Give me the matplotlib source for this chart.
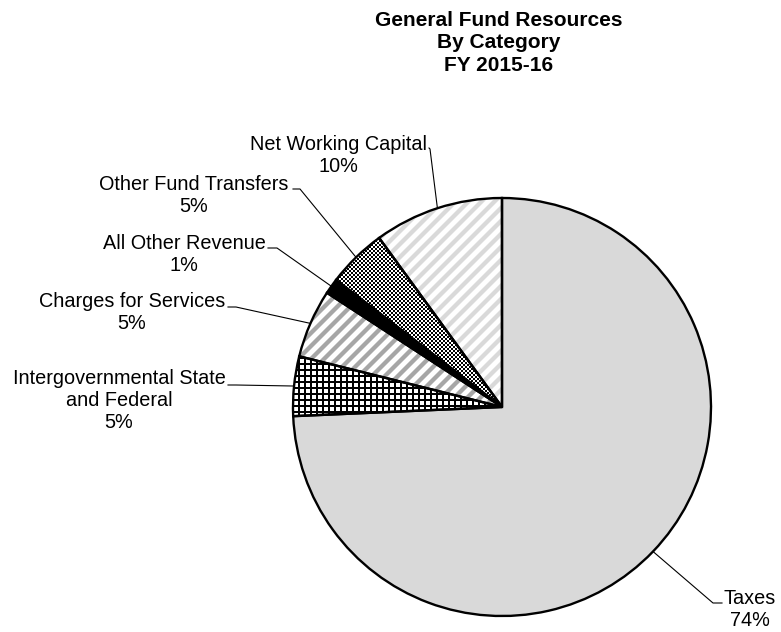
import numpy as np
import matplotlib.pyplot as plt
from matplotlib.patches import Wedge
from matplotlib.collections import LineCollection

plt.rcParams['font.family'] = ['Liberation Sans', 'DejaVu Sans']

# General fund resources, FY 2015-16 (percent of total)
categories = ['Taxes', 'Intergovernmental State\nand Federal', 'Charges for Services',
              'All Other Revenue', 'Other Fund Transfers', 'Net Working Capital']
shares = [74.3, 4.6, 5.3, 1.2, 4.6, 10.0]

W, H = 781, 632
fig = plt.figure(figsize=(W / 100, H / 100), dpi=100)
ax = fig.add_axes([0, 0, 1, 1])

cx, cy, r = 502, H - 407, 209
fills = ['#d9d9d9', 'white', 'white', 'black', 'white', 'white']
wedges, _ = ax.pie(shares, startangle=90, counterclock=False, center=(cx, cy),
                   radius=r, colors=fills, wedgeprops=dict(linewidth=0))


def stripes(w, color, period=13, lw=3.1):
    x0, x1 = cx - r - 5, cx + r + 5
    cs = np.arange(-(x1 - cy) - 2 * r, (cy - x0) + 2 * r, period)
    segs = [[(x0, x0 + c), (x1, x1 + c)] for c in cs]
    lc = LineCollection(segs, colors=color, linewidths=lw, capstyle='butt', zorder=2)
    lc.set_clip_path(w)
    ax.add_collection(lc)


def grid(w, step=6, lw=1.4):
    segs = []
    for k in np.arange(cx - r - 6, cx + r + 6, step):
        segs.append([(k, cy - r - 6), (k, cy + r + 6)])
    for k in np.arange(cy - r - 6, cy + r + 6, step):
        segs.append([(cx - r - 6, k), (cx + r + 6, k)])
    lc = LineCollection(segs, colors='black', linewidths=lw, antialiased=False, zorder=2)
    lc.set_clip_path(w)
    ax.add_collection(lc)


def checker(w, cell=2):
    n = int(2 * r / cell) + 6
    i, j = np.indices((n, n))
    board = ((i + j) % 2).astype(float)
    x0 = int(cx - r) - 6
    y0 = int(cy - r) - 6
    ax.imshow(board, cmap='gray', interpolation='nearest', zorder=2,
              extent=(x0, x0 + n * cell, y0, y0 + n * cell), clip_path=w)


grid(wedges[1])
stripes(wedges[2], '#a6a6a6')
checker(wedges[4])
stripes(wedges[5], '#d9d9d9')

for w in wedges:
    ax.add_patch(Wedge((cx, cy), r, w.theta1, w.theta2, fill=False,
                       edgecolor='black', linewidth=1.7, zorder=4))

# label centres, leader elbows (pixels from top-left)
label_xy = [(750, 610), (119, 400), (132, 312.5), (184, 254.5), (194, 195.5), (338, 155)]
leader_start = [(722, 603), (228, 385), (228, 307), (268, 248), (293, 189), (429, 148)]
leader_knee = [(713, 603), (236, 385), (236, 307), (277, 248), (300, 189), (430, 149)]

total = sum(shares)
for w, name, v, (tx, ty), (sx, sy), (kx, ky) in zip(wedges, categories, shares,
                                                       label_xy, leader_start, leader_knee):
    pct = int(v / total * 100 + 0.5)
    ax.text(tx, H - ty, f'{name}\n{pct}%', ha='center', va='center',
            fontsize=14.3, linespacing=1.2, zorder=5)
    mid = np.deg2rad((w.theta1 + w.theta2) / 2)
    ex, ey = cx + r * np.cos(mid), cy + r * np.sin(mid)
    ax.plot([sx, kx, ex], [H - sy, H - ky, ey], color='black', linewidth=0.8, zorder=5)

ax.text(499, H - 43, 'General Fund Resources\nBy Category\nFY 2015-16', ha='center',
        va='center', fontsize=15, fontweight='bold', linespacing=1.22)

ax.set_xlim(0, W)
ax.set_ylim(0, H)
ax.set_aspect('auto')
ax.axis('off')

fig.savefig('out.png', dpi=100)
